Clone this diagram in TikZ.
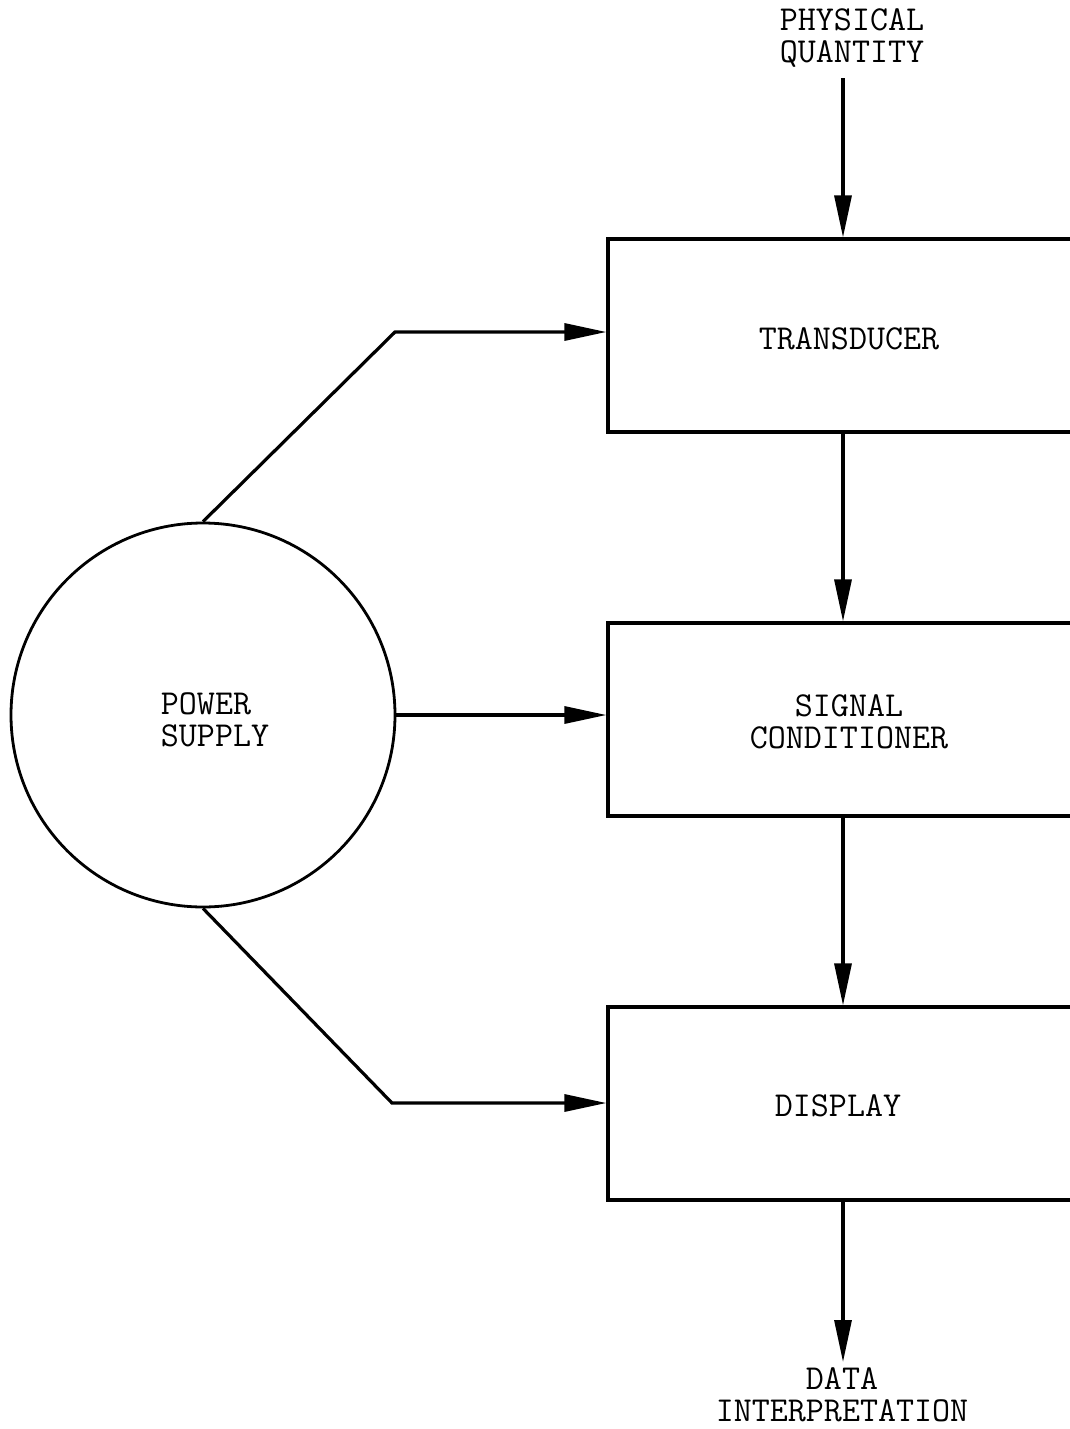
\documentclass[tikz,border=0pt]{standalone}
\usepackage{tikz}
\usetikzlibrary{arrows.meta,shapes.geometric}

\tikzset{
  blockbox/.style={draw, rectangle, minimum width=470, minimum height=193, inner sep=0pt, line width=3.2pt},
  supplycircle/.style={draw, circle, minimum size=384, inner sep=0pt, line width=2.8pt},
  lbl/.style={align=center, inner sep=0pt},
  flow/.style={-{Triangle[length=42,width=17]}, line width=3.2pt},
}

\begin{document}
\begin{tikzpicture}[x=1pt, y=-1pt, font=\ttfamily\fontsize{35}{32}\selectfont]
    \useasboundingbox (0,0) rectangle (1070,1429);
    \clip (0,0) rectangle (1070,1429);
    % Blocks
    \node[blockbox] (trans) at (843,335.5) {};
    \node[blockbox] (cond)  at (843,719.5) {};
    \node[blockbox] (disp)  at (843,1103.5) {};
    \node[lbl] (transtxt) at (849,339) {TRANSDUCER};
    \node[lbl] (condtxt)  at (849,722) {SIGNAL\\CONDITIONER};
    \node[lbl] (disptxt)  at (838,1106) {DISPLAY};
    % Power supply
    \node[supplycircle] (ps) at (203,715) {};
    \node[lbl, align=left] (pstxt) at (215,720) {POWER\\SUPPLY};
    % In / out labels
    \node[lbl] (phys) at (852,38) {PHYSICAL\\QUANTITY};
    \node[lbl] (data) at (842,1395) {DATA\\INTERPRETATION};
    \coordinate (physend) at (843,78);
    \coordinate (dataend) at (843,1362);
    % Signal path
    \draw[flow] (physend) -- (trans.north);
    \draw[flow] (trans.south) -- (cond.north);
    \draw[flow] (cond.south) -- (disp.north);
    \draw[flow] (disp.south) -- (dataend);
    % Supply lines
    \coordinate (bendA) at (395,332);
    \coordinate (bendC) at (392,1103);
    \draw[flow] (ps.north) -- (bendA) -- (bendA -| trans.west);
    \draw[flow] (ps.east) -- (ps.east -| cond.west);
    \draw[flow] (ps.south) -- (bendC) -- (bendC -| disp.west);
\end{tikzpicture}
\end{document}
